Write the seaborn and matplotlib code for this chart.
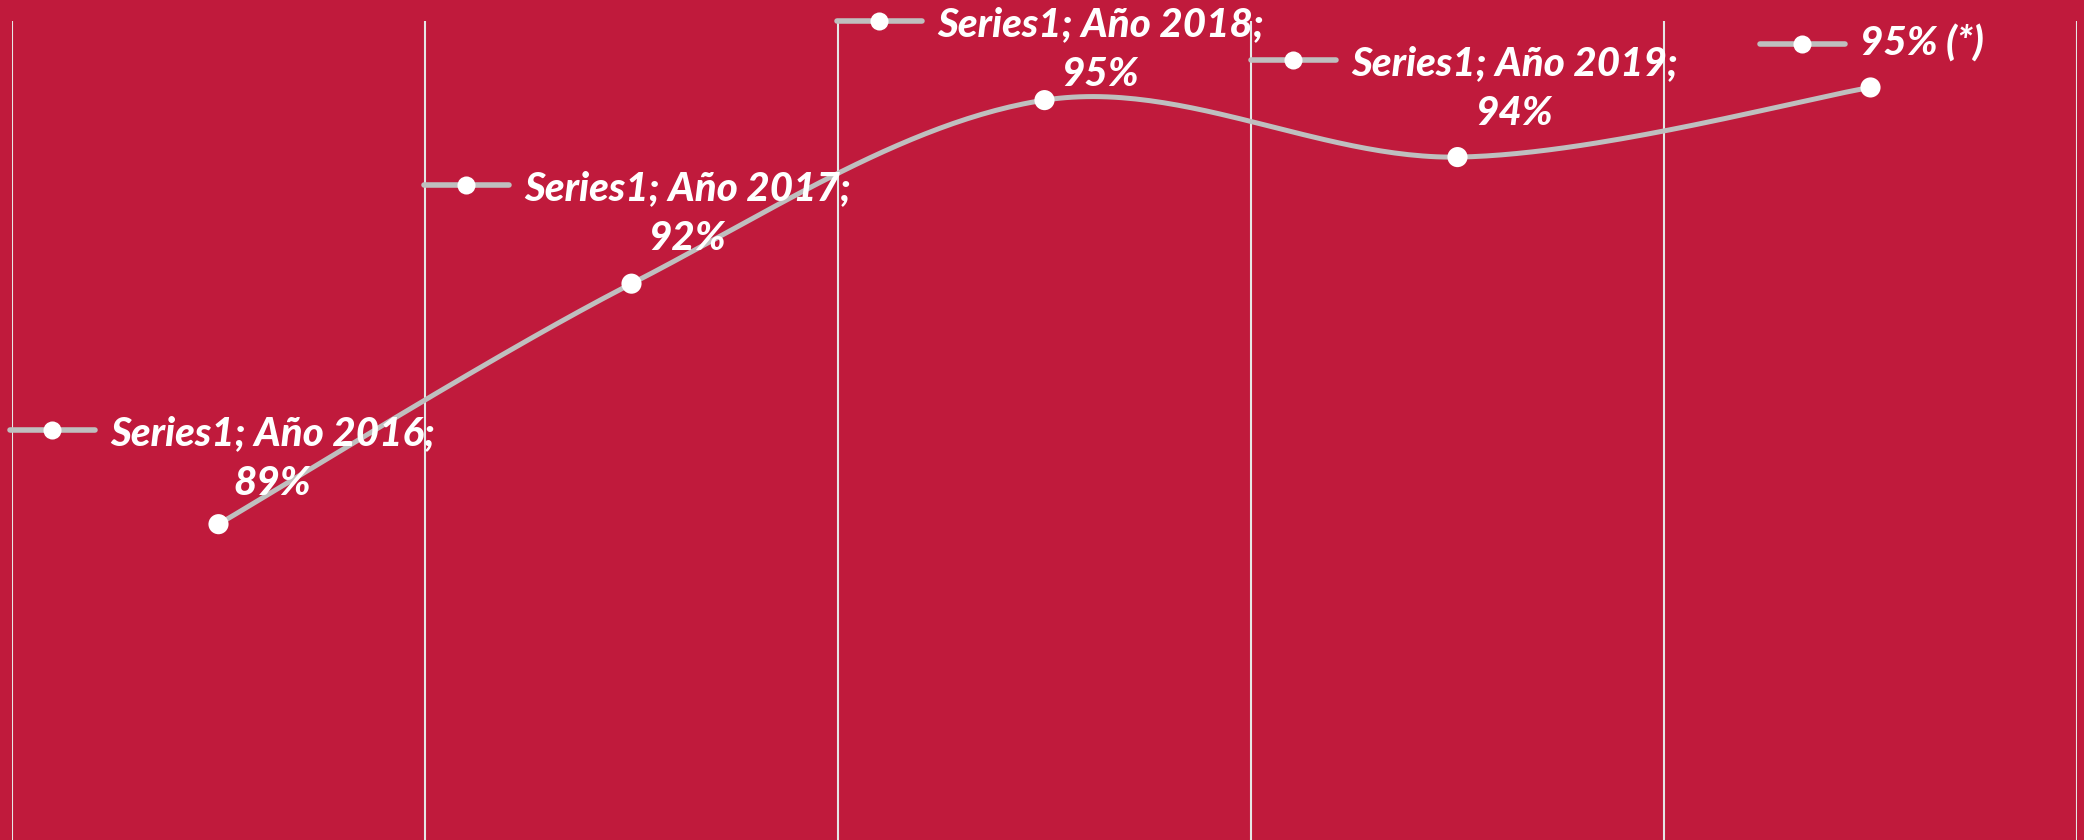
import numpy as np
import matplotlib
matplotlib.use("Agg")
import matplotlib.pyplot as plt
import seaborn as sns

# data
years = ["Año 2016", "Año 2017", "Año 2018", "Año 2019", "2020"]
values = [88.6, 92.4, 95.3, 94.4, 95.5]
labels = ["Series1; Año 2016;\n89%", "Series1; Año 2017;\n92%", "Series1; Año 2018;\n95%",
          "Series1; Año 2019;\n94%", "95% (*)"]

BG = "#C01A3C"
LINE = "#BFBFBF"
W, H = 2084, 840

sns.set_theme(style="white")
plt.rcParams["font.family"] = ["Lato", "Open Sans", "DejaVu Sans"]

fig = plt.figure(figsize=(W / 100, H / 100), dpi=100, facecolor=BG)
ax = fig.add_axes([12 / W, 0, 2065 / W, (H - 21) / H])
ax.set_facecolor(BG)

# excel-style smoothing (bezier with catmull-rom control points)
x = np.arange(len(values), dtype=float)
y = np.array(values, dtype=float)
P = np.column_stack([x, y])
Pp = np.vstack([P[0], P, P[-1]])
curve = []
t = np.linspace(0, 1, 60)[:, None]
for i in range(len(P) - 1):
    p0, p3 = P[i], P[i + 1]
    p1 = p0 + (Pp[i + 2] - Pp[i]) / 6
    p2 = p3 - (Pp[i + 3] - Pp[i + 1]) / 6
    seg = (1 - t) ** 3 * p0 + 3 * (1 - t) ** 2 * t * p1 + 3 * (1 - t) * t ** 2 * p2 + t ** 3 * p3
    curve.append(seg)
curve = np.vstack(curve)

for b in np.arange(len(values) + 1) - 0.5:
    ax.axvline(b, color="#E6E6E6", lw=1.5, zorder=1)

sns.lineplot(x=curve[:, 0], y=curve[:, 1], sort=False, color=LINE, lw=3.6, ax=ax, zorder=2)
sns.scatterplot(x=x, y=y, s=210, color="white", edgecolor="none", ax=ax, zorder=3)

ax.set_xlim(-0.5, len(values) - 0.5)
ax.set_ylim(83.61, 96.55)
ax.set_xticks([])
ax.set_yticks([])
for s in ax.spines.values():
    s.set_visible(False)

# data labels with legend keys (pixel layout: key left x, key y)
key_pos = [(10, 430), (424, 185), (837, 21), (1251, 60), (1760, 44)]
fx = lambda px: px / W
fy = lambda py: 1 - py / H
for (kx, ky), lab in zip(key_pos, labels):
    fig.add_artist(plt.Line2D([fx(kx), fx(kx + 85)], [fy(ky), fy(ky)], color=LINE, lw=4,
                              solid_capstyle="round", transform=fig.transFigure))
    fig.add_artist(plt.Line2D([fx(kx + 42)], [fy(ky)], marker="o", ms=13, color="white",
                              mec="none", transform=fig.transFigure))
    nlines = lab.count("\n") + 1
    cy = ky + (nlines - 1) * 57 / 2
    fig.text(fx(kx + 100), fy(cy), lab, ha="left", va="center", multialignment="center",
             color="white", fontsize=29, fontweight="black", fontstyle="italic", linespacing=1.42)

fig.savefig("out.png", dpi=100, facecolor=BG)
